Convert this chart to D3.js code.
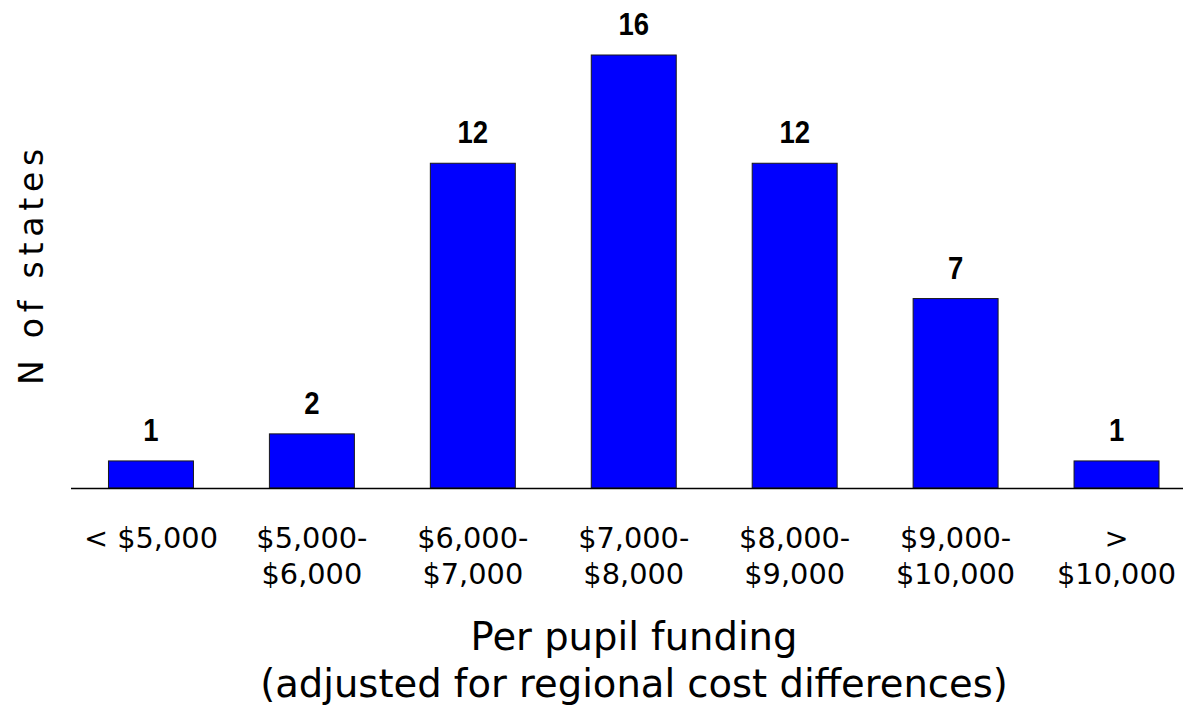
<!DOCTYPE html>
<html>
<head>
<meta charset="utf-8">
<script src="https://cdn.jsdelivr.net/npm/d3@7"></script>
<style>
  html, body { margin: 0; padding: 0; background: #fff; }
  svg { display: block; }
</style>
</head>
<body>
<svg id="chart" width="1183" height="709"></svg>
<script>
// Funding ranges (each entry may wrap onto two lines)
const categories = [
  ["< $5,000"],
  ["$5,000-", "$6,000"],
  ["$6,000-", "$7,000"],
  ["$7,000-", "$8,000"],
  ["$8,000-", "$9,000"],
  ["$9,000-", "$10,000"],
  [">", "$10,000"]
];
// Number of states in each range
const stateCounts = [1, 2, 12, 16, 12, 7, 1];

const xTitleLines = ["Per pupil funding", "(adjusted for regional cost differences)"];
const yTitle = "N of states";

const svg = d3.select("#chart");
const baseY = 488;

const keys = categories.map((c, i) => i);
const x = d3.scaleBand()
  .domain(keys)
  .range([70.5, 1197])
  .paddingInner(0.472)
  .paddingOuter(0.236);

const y = d3.scaleLinear()
  .domain([0, 16])
  .range([baseY, 55]);

// Bars
svg.append("g")
  .selectAll("rect")
  .data(stateCounts)
  .join("rect")
  .attr("x", (d, i) => x(i))
  .attr("y", d => y(d))
  .attr("width", x.bandwidth())
  .attr("height", d => y(0) - y(d))
  .attr("fill", "#0000ff")
  .attr("stroke", "#1a1a1a")
  .attr("stroke-width", 1);

// Baseline axis
const axis = d3.axisBottom(x).tickSize(0).tickSizeOuter(0).tickFormat("");
svg.append("g")
  .attr("transform", `translate(0,${baseY})`)
  .call(axis)
  .call(g => g.select(".domain").attr("stroke", "#000").attr("stroke-width", 1.3));

// Value labels above bars
svg.append("g")
  .selectAll("text")
  .data(stateCounts)
  .join("text")
  .attr("transform", (d, i) => `translate(${x(i) + x.bandwidth() / 2},${y(d) - 20}) scale(1,1.13)`)
  .attr("text-anchor", "middle")
  .attr("font-family", "'Liberation Sans', Arial, sans-serif")
  .attr("font-weight", "bold")
  .attr("font-size", 27.5)
  .attr("fill", "#000")
  .text(d => d);

// Category labels
const catText = svg.append("g")
  .selectAll("text")
  .data(categories)
  .join("text")
  .attr("text-anchor", "middle")
  .attr("font-family", "'DejaVu Sans', Verdana, sans-serif")
  .attr("font-size", 28.8)
  .attr("fill", "#000");
catText.selectAll("tspan")
  .data((d, i) => d.map(line => ({ line, i })))
  .join("tspan")
  .attr("x", d => x(d.i) + x.bandwidth() / 2)
  .attr("y", (d, j) => 548 + j * 36)
  .text(d => d.line);

// X title
svg.append("g")
  .selectAll("text")
  .data(xTitleLines)
  .join("text")
  .attr("x", 634)
  .attr("y", (d, i) => 650 + i * 47)
  .attr("text-anchor", "middle")
  .attr("font-family", "'DejaVu Sans', Verdana, sans-serif")
  .attr("font-size", 38.5)
  .attr("fill", "#000")
  .text(d => d);

// Y title
svg.append("text")
  .attr("transform", "translate(43,264) rotate(-90)")
  .attr("text-anchor", "middle")
  .attr("font-family", "'DejaVu Sans', Verdana, sans-serif")
  .attr("font-size", 33)
  .attr("letter-spacing", 5.8)
  .attr("fill", "#000")
  .text(yTitle);
</script>
</body>
</html>
